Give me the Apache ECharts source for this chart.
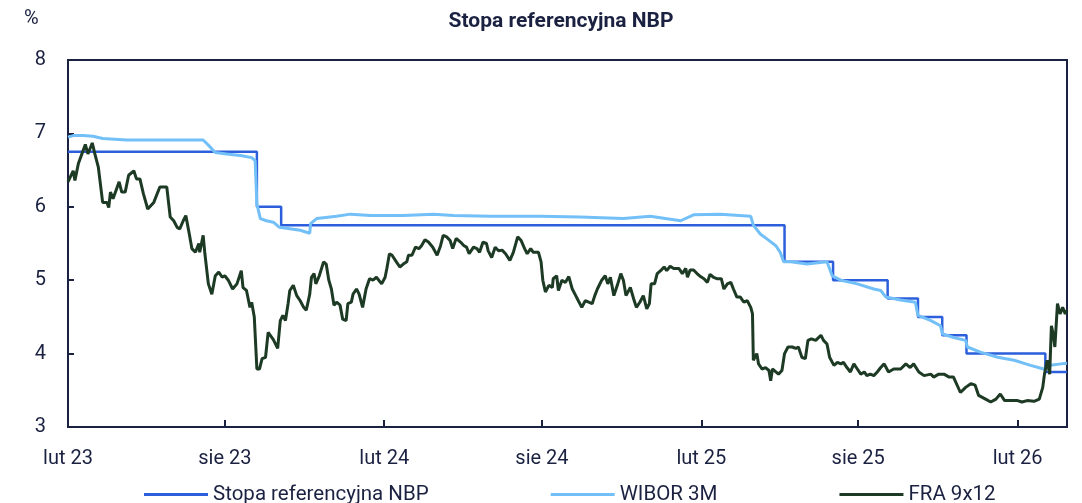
<!DOCTYPE html>
<html>
<head>
<meta charset="utf-8">
<script src="https://cdn.jsdelivr.net/npm/echarts@6/dist/echarts.min.js"></script>
<style>
  html, body { margin: 0; padding: 0; background: #fff; }
  #chart { width: 1082px; height: 503px; }
</style>
</head>
<body>
<div id="chart"></div>
<script>
// Stopa referencyjna NBP, WIBOR 3M, FRA 9x12 (%)
var tickDates = ['2023-02-01', '2023-08-01', '2024-02-01', '2024-08-01', '2025-02-01', '2025-08-01', '2026-02-01'];
var monthNames = ['sty', 'lut', 'mar', 'kwi', 'maj', 'cze', 'lip', 'sie', 'wrz', 'paź', 'lis', 'gru'];

var refDates = ['2023-02-01', '2023-09-07', '2023-10-05', '2025-05-08', '2025-07-03', '2025-09-04',
  '2025-10-09', '2025-11-06', '2025-12-04', '2026-03-05', '2026-03-30'];
var refValues = [6.75, 6.00, 5.75, 5.25, 5.00, 4.75, 4.50, 4.25, 4.00, 3.75, 3.75];

var wiborDates = ['2023-02-01', '2023-02-07', '2023-02-18', '2023-03-02', '2023-03-13', '2023-04-10', '2023-05-18',
  '2023-07-07', '2023-07-13', '2023-07-21', '2023-08-03', '2023-08-19', '2023-09-01', '2023-09-05', '2023-09-07',
  '2023-09-11', '2023-09-18', '2023-09-26', '2023-10-03', '2023-10-15', '2023-10-27', '2023-11-07', '2023-11-08',
  '2023-11-15', '2023-12-08', '2023-12-24', '2024-01-16', '2024-02-23', '2024-03-29', '2024-04-21', '2024-06-02',
  '2024-07-30', '2024-09-14', '2024-11-03', '2024-12-04', '2025-01-08', '2025-01-23', '2025-02-23', '2025-03-30',
  '2025-04-02', '2025-04-10', '2025-04-18', '2025-04-28', '2025-05-03', '2025-05-07', '2025-05-15', '2025-06-03',
  '2025-06-26', '2025-07-02', '2025-07-12', '2025-07-31', '2025-08-19', '2025-08-27', '2025-09-02', '2025-09-19',
  '2025-10-06', '2025-10-09', '2025-10-24', '2025-11-04', '2025-11-06', '2025-11-19', '2025-12-03', '2025-12-05',
  '2025-12-20', '2026-01-09', '2026-01-28', '2026-02-16', '2026-03-03', '2026-03-11', '2026-03-23', '2026-03-30'];
var wiborValues = [6.95, 6.97, 6.97, 6.96, 6.93, 6.91, 6.91,
  6.91, 6.84, 6.74, 6.72, 6.70, 6.67, 6.63, 6.04,
  5.84, 5.81, 5.79, 5.72, 5.70, 5.68, 5.64, 5.77,
  5.84, 5.87, 5.90, 5.88, 5.88, 5.90, 5.88, 5.87,
  5.87, 5.86, 5.84, 5.87, 5.81, 5.89, 5.90, 5.87,
  5.75, 5.63, 5.56, 5.47, 5.38, 5.25, 5.25, 5.22,
  5.25, 5.06, 5.00, 4.95, 4.88, 4.86, 4.77, 4.73,
  4.70, 4.52, 4.45, 4.38, 4.27, 4.22, 4.18, 4.09,
  4.02, 3.95, 3.91, 3.84, 3.79, 3.84, 3.86, 3.87];

var fraDates = [
  '2023-02-01', '2023-02-07', '2023-02-09', '2023-02-13', '2023-02-17', '2023-02-21', '2023-02-24', '2023-03-01', '2023-03-04', '2023-03-08',
  '2023-03-13', '2023-03-18', '2023-03-20', '2023-03-22', '2023-03-25', '2023-04-01', '2023-04-04', '2023-04-08', '2023-04-12', '2023-04-18',
  '2023-04-21', '2023-04-25', '2023-04-29', '2023-05-04', '2023-05-11', '2023-05-18', '2023-05-26', '2023-05-30', '2023-06-03', '2023-06-07',
  '2023-06-10', '2023-06-14', '2023-06-17', '2023-06-21', '2023-06-24', '2023-06-28', '2023-07-02', '2023-07-03', '2023-07-07', '2023-07-09',
  '2023-07-13', '2023-07-17', '2023-07-21', '2023-07-25', '2023-07-29', '2023-08-01', '2023-08-05', '2023-08-10', '2023-08-15', '2023-08-20',
  '2023-08-22', '2023-08-26', '2023-08-30', '2023-09-01', '2023-09-04', '2023-09-07', '2023-09-10', '2023-09-13', '2023-09-17', '2023-09-20',
  '2023-09-26', '2023-10-01', '2023-10-04', '2023-10-07', '2023-10-10', '2023-10-13', '2023-10-15', '2023-10-19', '2023-10-23', '2023-10-27',
  '2023-10-31', '2023-11-03', '2023-11-07', '2023-11-09', '2023-11-12', '2023-11-14', '2023-11-18', '2023-11-23', '2023-11-26', '2023-11-29',
  '2023-12-02', '2023-12-05', '2023-12-08', '2023-12-12', '2023-12-15', '2023-12-19', '2023-12-21', '2023-12-25', '2023-12-27', '2023-12-31',
  '2024-01-03', '2024-01-07', '2024-01-11', '2024-01-15', '2024-01-19', '2024-01-23', '2024-01-25', '2024-01-29', '2024-02-02', '2024-02-04',
  '2024-02-07', '2024-02-10', '2024-02-15', '2024-02-19', '2024-02-23', '2024-02-27', '2024-02-29', '2024-03-04', '2024-03-08', '2024-03-12',
  '2024-03-15', '2024-03-19', '2024-03-23', '2024-03-28', '2024-04-02', '2024-04-06', '2024-04-09', '2024-04-13', '2024-04-17', '2024-04-20',
  '2024-04-24', '2024-04-29', '2024-05-03', '2024-05-06', '2024-05-09', '2024-05-14', '2024-05-18', '2024-05-21', '2024-05-25', '2024-05-29',
  '2024-05-31', '2024-06-04', '2024-06-08', '2024-06-12', '2024-06-16', '2024-06-20', '2024-06-25', '2024-06-29', '2024-07-04', '2024-07-08',
  '2024-07-12', '2024-07-15', '2024-07-19', '2024-07-22', '2024-07-28', '2024-07-31', '2024-08-02', '2024-08-05', '2024-08-09', '2024-08-13',
  '2024-08-14', '2024-08-18', '2024-08-20', '2024-08-24', '2024-08-28', '2024-09-01', '2024-09-05', '2024-09-09', '2024-09-12', '2024-09-16',
  '2024-09-20', '2024-09-24', '2024-09-28', '2024-10-01', '2024-10-04', '2024-10-09', '2024-10-13', '2024-10-16', '2024-10-19', '2024-10-23',
  '2024-10-27', '2024-10-31', '2024-11-03', '2024-11-06', '2024-11-11', '2024-11-15', '2024-11-18', '2024-11-22', '2024-11-26', '2024-11-30',
  '2024-12-03', '2024-12-05', '2024-12-09', '2024-12-12', '2024-12-16', '2024-12-20', '2024-12-23', '2024-12-27', '2024-12-31',
  '2025-01-06', '2025-01-10', '2025-01-14', '2025-01-16', '2025-01-19', '2025-01-23', '2025-01-27', '2025-01-31', '2025-02-04', '2025-02-08',
  '2025-02-11', '2025-02-15', '2025-02-19', '2025-02-24', '2025-02-27', '2025-03-03', '2025-03-07', '2025-03-10', '2025-03-14', '2025-03-18',
  '2025-03-22', '2025-03-26', '2025-03-30', '2025-04-01', '2025-04-02', '2025-04-06', '2025-04-08', '2025-04-12', '2025-04-16', '2025-04-20',
  '2025-04-22', '2025-04-24', '2025-04-28', '2025-05-01', '2025-05-05', '2025-05-08', '2025-05-12', '2025-05-17', '2025-05-21', '2025-05-24',
  '2025-05-28', '2025-06-01', '2025-06-04', '2025-06-08', '2025-06-13', '2025-06-19', '2025-06-22', '2025-06-26', '2025-06-29', '2025-07-04',
  '2025-07-08', '2025-07-12', '2025-07-15', '2025-07-19', '2025-07-23', '2025-07-27', '2025-07-31', '2025-08-04', '2025-08-08', '2025-08-11',
  '2025-08-15', '2025-08-19', '2025-08-23', '2025-08-27', '2025-08-31', '2025-09-05', '2025-09-11', '2025-09-19', '2025-09-25', '2025-09-30',
  '2025-10-04', '2025-10-10', '2025-10-16', '2025-10-24', '2025-10-27', '2025-11-02', '2025-11-08', '2025-11-14', '2025-11-19', '2025-11-27',
  '2025-12-03', '2025-12-09', '2025-12-14', '2025-12-18', '2025-12-26', '2026-01-01', '2026-01-07', '2026-01-12', '2026-01-17', '2026-01-24',
  '2026-02-01', '2026-02-06', '2026-02-12', '2026-02-20', '2026-02-26', '2026-03-02', '2026-03-04', '2026-03-07', '2026-03-10', '2026-03-12',
  '2026-03-14', '2026-03-16', '2026-03-19', '2026-03-22', '2026-03-25', '2026-03-28', '2026-03-30'
];
var fraValues = [
  6.34, 6.49, 6.36, 6.59, 6.72, 6.85, 6.72, 6.87, 6.72, 6.54,
  6.06, 6.06, 5.99, 6.20, 6.11, 6.34, 6.20, 6.20, 6.43, 6.49,
  6.38, 6.38, 6.18, 5.97, 6.06, 6.27, 6.27, 5.86, 5.81, 5.72,
  5.70, 5.81, 5.88, 5.63, 5.43, 5.38, 5.50, 5.38, 5.61, 5.36,
  4.95, 4.81, 5.06, 5.11, 5.04, 5.06, 5.00, 4.88, 4.95, 5.13,
  4.90, 4.86, 4.63, 4.70, 4.50, 3.79, 3.79, 3.93, 3.95, 4.29,
  4.19, 4.07, 4.45, 4.52, 4.45, 4.68, 4.86, 4.93, 4.79, 4.72,
  4.63, 4.59, 4.81, 5.04, 5.09, 4.95, 5.06, 5.25, 5.22, 5.00,
  4.88, 4.66, 4.70, 4.66, 4.47, 4.45, 4.68, 4.70, 4.81, 4.88,
  4.81, 4.63, 4.88, 5.02, 5.00, 5.04, 5.06, 4.95, 5.04, 5.16,
  5.36, 5.34, 5.25, 5.18, 5.22, 5.25, 5.34, 5.34, 5.45, 5.43,
  5.47, 5.55, 5.52, 5.45, 5.34, 5.47, 5.61, 5.59, 5.54, 5.43,
  5.57, 5.52, 5.47, 5.45, 5.36, 5.45, 5.43, 5.38, 5.52, 5.50,
  5.40, 5.31, 5.45, 5.40, 5.41, 5.36, 5.27, 5.38, 5.59, 5.54,
  5.43, 5.36, 5.43, 5.38, 5.38, 5.25, 5.00, 4.84, 4.93, 4.90,
  5.02, 5.06, 4.86, 5.00, 4.97, 5.05, 4.88, 4.79, 4.72, 4.63,
  4.72, 4.70, 4.68, 4.79, 4.88, 5.00, 5.06, 4.95, 5.04, 4.79,
  4.93, 5.09, 5.00, 4.79, 4.90, 4.74, 4.63, 4.70, 4.79, 4.61,
  4.68, 4.95, 4.95, 5.09, 5.13, 5.18, 5.13, 5.19, 5.16,
  5.16, 5.09, 5.16, 5.04, 5.14, 5.14, 5.09, 5.05, 5.02, 4.97,
  5.08, 5.04, 5.02, 5.02, 4.88, 4.95, 4.97, 4.88, 4.77, 4.77,
  4.70, 4.72, 4.63, 4.54, 3.91, 4.00, 3.86, 3.79, 3.81, 3.77,
  3.63, 3.79, 3.75, 3.72, 3.77, 4.00, 4.09, 4.09, 4.07, 4.09,
  3.95, 3.93, 4.18, 4.20, 4.18, 4.25, 4.18, 4.13, 3.95, 3.84,
  3.88, 3.86, 3.88, 3.81, 3.75, 3.86, 3.79, 3.72, 3.75, 3.70,
  3.72, 3.70, 3.75, 3.81, 3.86, 3.75, 3.79, 3.79, 3.86, 3.81,
  3.86, 3.75, 3.70, 3.72, 3.68, 3.72, 3.72, 3.68, 3.68, 3.47,
  3.54, 3.59, 3.57, 3.43, 3.38, 3.34, 3.38, 3.45, 3.36, 3.36,
  3.36, 3.34, 3.36, 3.35, 3.38, 3.54, 3.72, 3.91, 3.72, 4.38,
  4.27, 4.09, 4.68, 4.54, 4.63, 4.54, 4.59
];

var yTicks = [3, 4, 5, 6, 7, 8];
var xStart = '2023-02-01';
var xEnd = '2026-03-30';

var FONT = "'Liberation Sans Narrow', Roboto, sans-serif";
var INK = '#1b2140';

function ts(d) {
  return +echarts.time.parse(d);
}

function zip(dates, values) {
  return dates.map(function (d, i) { return [ts(d), values[i]]; });
}

var chart = echarts.init(document.getElementById('chart'), null, { renderer: 'canvas' });

var tickStamps = tickDates.map(ts);

var option = {
  animation: false,
  backgroundColor: '#ffffff',
  title: {
    text: 'Stopa referencyjna NBP',
    left: 556,
    textAlign: 'center',
    top: 6,
    textStyle: { fontFamily: FONT, fontSize: 21, fontWeight: 'bold', color: INK }
  },
  graphic: [{
    type: 'text',
    left: 24,
    top: 9,
    style: { text: '%', fontFamily: FONT, fontSize: 20, fill: INK }
  }],
  legend: {
    left: 139,
    top: 479,
    itemWidth: 64,
    itemHeight: 3,
    itemGap: 122,
    icon: 'rect',
    textStyle: { fontFamily: FONT, fontSize: 20.5, color: INK },
    data: ['Stopa referencyjna NBP', 'WIBOR 3M', 'FRA 9x12']
  },
  grid: {
    left: 68,
    right: 15,
    top: 60,
    bottom: 76,
    show: true,
    borderColor: INK,
    borderWidth: 2
  },
  xAxis: {
    type: 'value',
    min: ts(xStart),
    max: ts(xEnd),
    axisLine: { lineStyle: { color: INK, width: 2 } },
    axisTick: {
      show: true,
      inside: true,
      length: 7,
      customValues: tickStamps,
      lineStyle: { color: INK, width: 2 }
    },
    axisLabel: {
      customValues: tickStamps,
      margin: 22,
      fontFamily: FONT,
      fontSize: 20,
      color: INK,
      formatter: function (v) {
        var d = new Date(v);
        return monthNames[d.getMonth()] + ' ' + String(d.getFullYear()).slice(2);
      }
    },
    splitLine: { show: false }
  },
  yAxis: {
    type: 'value',
    min: yTicks[0],
    max: yTicks[yTicks.length - 1],
    interval: 1,
    axisLine: { show: true, lineStyle: { color: INK, width: 2 } },
    axisTick: { show: true, inside: true, length: 6, lineStyle: { color: INK, width: 2 } },
    axisLabel: { margin: 22, fontFamily: FONT, fontSize: 20, color: INK },
    splitLine: { show: false }
  },
  series: [
    {
      name: 'Stopa referencyjna NBP',
      type: 'line',
      step: 'end',
      showSymbol: false,
      color: '#2d5fdc',
      lineStyle: { width: 2.5, color: '#2d5fdc' },
      data: zip(refDates, refValues)
    },
    {
      name: 'WIBOR 3M',
      type: 'line',
      showSymbol: false,
      color: '#72c0f7',
      lineStyle: { width: 3, color: '#72c0f7' },
      data: zip(wiborDates, wiborValues)
    },
    {
      name: 'FRA 9x12',
      type: 'line',
      showSymbol: false,
      color: '#1d3a24',
      lineStyle: { width: 3, color: '#1d3a24' },
      data: zip(fraDates, fraValues)
    }
  ]
};

chart.setOption(option);
</script>
</body>
</html>
